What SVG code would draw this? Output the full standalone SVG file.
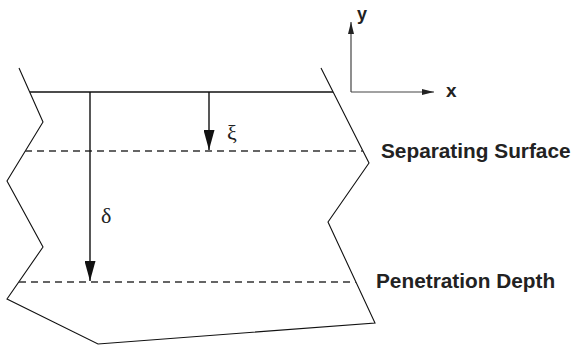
<svg xmlns="http://www.w3.org/2000/svg" width="575" height="345" viewBox="0 0 575 345">
  <style>
    .edge { fill: none; stroke: #111; stroke-width: 1.1; }
    .top { fill: none; stroke: #111; stroke-width: 1.4; }
    .dash { fill: none; stroke: #333; stroke-width: 1.3; stroke-dasharray: 7 5; }
    .shaft { fill: none; stroke: #111; stroke-width: 1.4; }
    .axis { fill: none; stroke: #444; stroke-width: 1.2; }
    .label { font-family: "Liberation Sans", Arial, sans-serif; font-weight: bold; fill: #222; }
    .greek { font-family: "Liberation Serif", "Times New Roman", serif; fill: #222; }
  </style>
  <defs>
    <marker id="bigHead" markerWidth="20" markerHeight="11" refX="20" refY="5.5" orient="auto" markerUnits="userSpaceOnUse">
      <polygon points="0,0 20,5.5 0,11" fill="#111"/>
    </marker>
    <marker id="axisHead" markerWidth="12" markerHeight="6" refX="12" refY="3" orient="auto" markerUnits="userSpaceOnUse">
      <polygon points="0,0 12,3 0,6" fill="#222"/>
    </marker>
  </defs>

  <g id="body">
    <polyline class="edge" points="19,68 43,122 7,181 43,247 7,299 98,344 375,323 328,222 369,163 321,68"/>
    <line class="top" x1="30" y1="92" x2="333" y2="92"/>
  </g>

  <g id="separating-surface">
    <line class="dash" x1="25" y1="151" x2="363" y2="151"/>
    <text class="label" x="381" y="158" font-size="20.8">Separating Surface</text>
  </g>

  <g id="penetration-depth">
    <line class="dash" x1="19" y1="282" x2="356" y2="282"/>
    <text class="label" x="376" y="288" font-size="20.8">Penetration Depth</text>
  </g>

  <g id="connectors">
    <line class="shaft" x1="90" y1="92" x2="90" y2="281" marker-end="url(#bigHead)"/>
    <line class="shaft" x1="209" y1="92" x2="209" y2="150" marker-end="url(#bigHead)" stroke="#444"/>
    <line class="axis" x1="351" y1="92" x2="351" y2="22" marker-end="url(#axisHead)"/>
    <line class="axis" x1="351" y1="92" x2="434" y2="92" marker-end="url(#axisHead)"/>
  </g>

  <g id="labels">
    <text class="greek" x="101" y="223" font-size="22">δ</text>
    <text class="greek" x="227" y="140" font-size="22">ξ</text>
    <text class="label" x="357" y="20" font-size="18">y</text>
    <text class="label" x="446" y="97" font-size="19">x</text>
  </g>
</svg>
